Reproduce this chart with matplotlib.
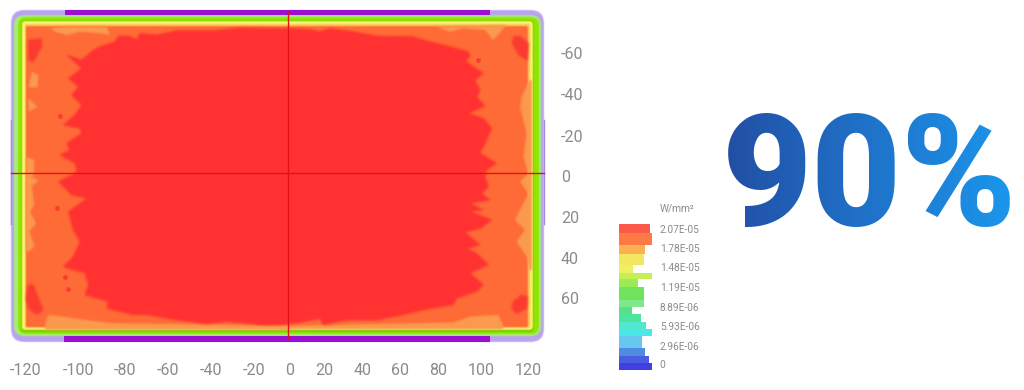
import numpy as np
import matplotlib
matplotlib.use("Agg")
import matplotlib.pyplot as plt
from matplotlib.patches import FancyBboxPatch

plt.rcParams['font.family'] = ['Roboto', 'DejaVu Sans']

W, H = 1024, 390
GREY = '#8b8b8b'

# tick labels of the plate map (mm)
x_labels = ['-120', '-100', '-80', '-60', '-40', '-20', '0', '20', '40', '60', '80', '100', '120']
y_labels = ['-60', '-40', '-20', '0', '20', '40', '60']

# outline of the red core (irradiance zone), mm
red_x = [-94.9, -91.6, -84.3, -82.6, -77.7, -73.6, -72, -63.8, -54, -36, -23, -0.5, 11.3, 16.2, 21.1, 32.5, 44, 62, 70.1,
         79.9, 88.9, 89.7, 87.2, 91.3, 96.2, 92.1, 94.6, 93, 97, 88.9, 96.2, 100.3, 97.8, 94.6, 102.7, 97.8, 97, 98.7,
         95.4, 99.5, 89.7, 96.2, 89.7, 100.3, 94.6, 87.2, 94.6, 88, 92.9, 98.7, 89.7, 96.2, 93, 83.1, 81.5, 66.8, 57,
         44, 29.3, 17.8, 16.2, 6.4, -3.4, -11.6, -29.6, -39.4, -54, -68.7, -75.3, -88.3, -87.5, -99, -97.3, -99, -109.6,
         -104.7, -101.4, -104.7, -107.1, -98.1, -105.5, -112, -103.9, -103, -103.9, -111.2, -106.3, -107.9, -100.6,
         -101.4, -109.6, -103.9, -100.6, -105.5, -102.2, -107.1, -100.6, -107.9, -100.6]
red_y = [-60.3, -62, -64.4, -67.2, -67.2, -65.5, -68.5, -67.7, -69.8, -69.8, -71.2, -70.9, -70.4, -69.3, -70.9, -69.3,
         -67.2, -66.8, -64.4, -62, -59.5, -57, -55.4, -52.1, -48.9, -45.6, -40.7, -37.4, -32.9, -29.3, -26.8, -21.9,
         -16.2, -9.7, -4.8, -1.5, 1.7, 6.7, 10, 13.2, 14.8, 18.1, 18.9, 23, 27.1, 29, 35.2, 36.9, 39.3, 45, 49.1, 54.8,
         58.1, 61.4, 64.6, 67.1, 69.5, 72, 72, 74.4, 71.2, 73.3, 74.4, 74.4, 72.8, 73.9, 72, 69.5, 69.5, 66.3, 63, 59.7,
         54.8, 49.1, 45.9, 41, 33.6, 27.9, 18.9, 12.4, 10.7, 4.2, 0.1, -1.5, -4.8, -8.9, -11.3, -14.6, -19.5, -21.9,
         -23.6, -28.5, -33.3, -38.3, -42.3, -46.4, -51.3, -57.9, -55.4]

# light orange zones, mm
light_zones = [
    ([-116.1, -107.9, -88.3, -86.7, -91.6, -101.4, -107.9, -113.7], [-70.9, -71.7, -71.7, -67.7, -68.5, -69.3, -67.7, -69.3]),
    ([73.4, 107.6, 101.1, 97, 86.4, 79.9], [-71.7, -72.6, -65.2, -70.1, -70.9, -69.3]),
    ([-116.9, -104.7, -86.7, 1.5, 1.5, -118.6, -118.6], [69.5, 71.2, 73.6, 74.9, 76.9, 76.9, 74.4]),
    ([-3.4, 81.5, 89.7, 103.6, 106, 106, -3.4], [74.9, 73.3, 70.4, 69.5, 74.9, 76.6, 76.6]),
    ([-126.7, -122.3, -126.7], [-36.6, -32.5, -30.1]),
    ([-125.1, -121.8, -122.3, -126.7], [-49.7, -48, -42, -42]),
    ([-127.9, -123.8, -124.3, -127.9], [-8, -6.4, 1.8, 1.8]),
    ([-127.9, -127.5, -121.8, -125.1, -123.9, -125.9, -123, -126.2, -123.8, -126.7, -127.9],
     [1, 1, 3.4, 6.7, 15.6, 18.9, 24.6, 28.7, 36, 38.5, 38.5]),
    ([120, 118.7, 115, 114.2, 117.4, 115.8, 118.3, 114.2, 118.3, 111.7, 116.6, 112.5, 117.4, 118.7, 120],
     [-45.6, -45.6, -37.4, -32.5, -19.5, -8, 0.1, 4.2, 10, 23, 27.9, 33.6, 41, 47.5, 47.5]),
]

# hot spots in the corners, mm
spot_zones = [
    ([-126.7, -120.2, -120.2, -124.3, -126.7], [-65.2, -66, -62, -54.6, -55.4]),
    ([110.9, 114.2, 118.3, 117.8, 113.4, 110.4], [-66.8, -67.2, -63.6, -55.4, -57.9, -63.6]),
    ([-126.7, -124.3, -121.8, -119.4, -122.6, -126.7, -127.9], [54.8, 54.8, 61.4, 67.1, 69.5, 66.3, 61.4]),
    ([115, 117.8, 117.4, 112.5, 110.1, 110.9], [59.7, 60.6, 66.3, 69, 66.3, 63]),
]
dot_x = [-111.2, 93.8, -112.5, -107.1, -108.8]
dot_y = [-28, -55.4, 17, 57, 51.2]

# legend
legend_labels = ['2.07E-05', '1.78E-05', '1.48E-05', '1.19E-05', '8.89E-06', '5.93E-06', '2.96E-06', '0']
legend_widths = [30.7, 32.3, 25.7, 25, 14, 32.3, 18.3, 25, 25, 13, 21.3, 26.3, 32.3, 23, 26, 29.3, 32.3]
legend_heights = [27, 35, 28, 34, 23, 18, 25, 38, 19, 23, 22, 22, 21, 37, 22, 21, 22]
legend_colors = ['#fb5a4a', '#fd7a45', '#fdb050', '#f3e75f', '#eef060', '#c6ee55', '#98ec58', '#6fe35c', '#7fe88a',
                 '#55e08a', '#4fe3a0', '#52e8d0', '#4ce8e8', '#66c8ee', '#4f8be0', '#4a5ce0', '#4040e0']


def rect(x0, y0, x1, y1):
    # figure fractions from pixel edges
    return [x0 / W, 1 - y1 / H, (x1 - x0) / W, (y1 - y0) / H]


def soft(sigma):
    # blurs the edge of a one colour shape, the reference is a soft video frame
    r = int(3 * sigma) + 1
    k = np.exp(-0.5 * (np.arange(-r, r + 1) / sigma) ** 2)
    k = k / k.sum()

    def f(img, dpi):
        a = np.pad(img[..., 3], r)
        a = np.apply_along_axis(np.convolve, 0, a, k, mode='same')
        a = np.apply_along_axis(np.convolve, 1, a, k, mode='same')
        out = np.zeros(a.shape + (4,))
        i = np.unravel_index(np.argmax(img[..., 3]), img.shape[:2])
        out[..., :3] = img[i][:3]
        out[..., 3] = a
        return out, -r, -r
    return f


fig = plt.figure(figsize=(W / 100, H / 100), dpi=100)

ax = fig.add_axes(rect(5, 5, 549, 348))
ax.set_xlim(-138.2, 128.4)
ax.set_ylim(85.8, -82.4)
for s in ax.spines.values():
    s.set_visible(False)

# nested bands of the plate edge
bands = [
    ((-135.2, 125.9, -79.9, 82.8), '#b9a2ee', 6.5),
    ((-133.8, 124.5, -77.4, 79.9), '#a6ee78', 5),
    ((-131.8, 123.5, -76.4, 78.9), '#93e400', 4),
    ((-130.3, 121, -75, 77.9), '#6fd000', 2),
    ((-129.9, 120.5, -74.5, 76.9), '#fdf26c', 1.5),
    ((-128.4, 119.1, -73, 76), '#fbc25a', 1),
    ((-127.9, 118, -72, 75.5), '#ff6b36', 0.8),
]
for (x0, x1, y0, y1), c, r in bands:
    b = FancyBboxPatch((x0, y0), x1 - x0, y1 - y0, boxstyle='round,pad=0,rounding_size=%g' % r, fc=c, ec='none')
    b.set_agg_filter(soft(0.6))
    ax.add_patch(b)

ax.fill_between([-108.8, 99.5], -79.9, -77.4, color='#9a0fd2', lw=0)
ax.fill_between([-109.3, 99.5], 79.9, 82.8, color='#9a0fd2', lw=0)
ax.plot([-135.2, -135.2], [-26, 25], color='#a58ae6', lw=1)
ax.plot([125.9, 125.9], [-26, 25], color='#a58ae6', lw=1)

for zx, zy in light_zones:
    ax.fill(zx, zy, color='#fb9a4e', lw=0)[0].set_agg_filter(soft(1.0))
ax.fill(red_x, red_y, color='#ff3131', lw=0.5, joinstyle='round')[0].set_agg_filter(soft(1.2))
for zx, zy in spot_zones:
    ax.fill(zx, zy, color='#fb3a30', lw=0.5, joinstyle='round')[0].set_agg_filter(soft(1.2))
ax.scatter(dot_x, dot_y, s=12, color='#fb3a30', lw=0)

# crosshair
ax.plot([-135.2, 125.9], [0, 0], color='#e01212', lw=1)
ax.plot([0.4, 0.4], [-79, 81], color='#e01212', lw=1)

ax.set_xticks([-127.9, -102.4, -79.4, -58.3, -37.2, -16.2, 1.5, 18.1, 36.8, 55.4, 74, 95, 118])
ax.set_xticklabels(x_labels)
ax.set_yticks([-58.8, -38.7, -18.1, 1.5, 21.6, 41.7, 61.3])
ax.set_yticklabels(y_labels)
ax.yaxis.tick_right()
ax.tick_params(axis='x', length=0, pad=11, labelsize=11.5, labelcolor=GREY)
ax.tick_params(axis='y', length=0, pad=8.6, labelsize=11.5, labelcolor=GREY)

# legend bars
lax = fig.add_axes(rect(619.3, 224, 651.7, 370))
tops = np.cumsum([0] + legend_heights[:-1])
lax.barh(tops, legend_widths, height=legend_heights, align='edge', color=legend_colors, lw=0)
lax.set_xlim(0, 32.4)
lax.set_ylim(437, 0)
for s in lax.spines.values():
    s.set_visible(False)
lax.set_xticks([])
lax.yaxis.tick_right()
lax.set_yticks([15, 72, 130, 189, 247, 305, 364, 420])
lax.set_yticklabels(legend_labels)
lax.tick_params(axis='y', length=0, pad=5.8, labelsize=7.3, labelcolor=GREY)
fig.text(660 / W, 1 - 209 / H, 'W/mm²', fontsize=7.3, color=GREY, ha='left', va='center')


def gradient(img, dpi):
    # left to right blue ramp, keeps the glyph alpha
    out = img.copy()
    t = np.linspace(0, 1, img.shape[1])[None, :]
    out[..., 0] = (0x22 + (0x1b - 0x22) * t)[0] / 255
    out[..., 1] = (0x4f + (0x96 - 0x4f) * t)[0] / 255
    out[..., 2] = (0xa6 + (0xec - 0xa6) * t)[0] / 255
    return out, 0, 0


big = fig.text(869.7 / W, 1 - 225 / H, '90%', fontsize=112, fontweight='black', ha='center', va='baseline')
big.set_agg_filter(gradient)

fig.savefig('out.png', dpi=100)
